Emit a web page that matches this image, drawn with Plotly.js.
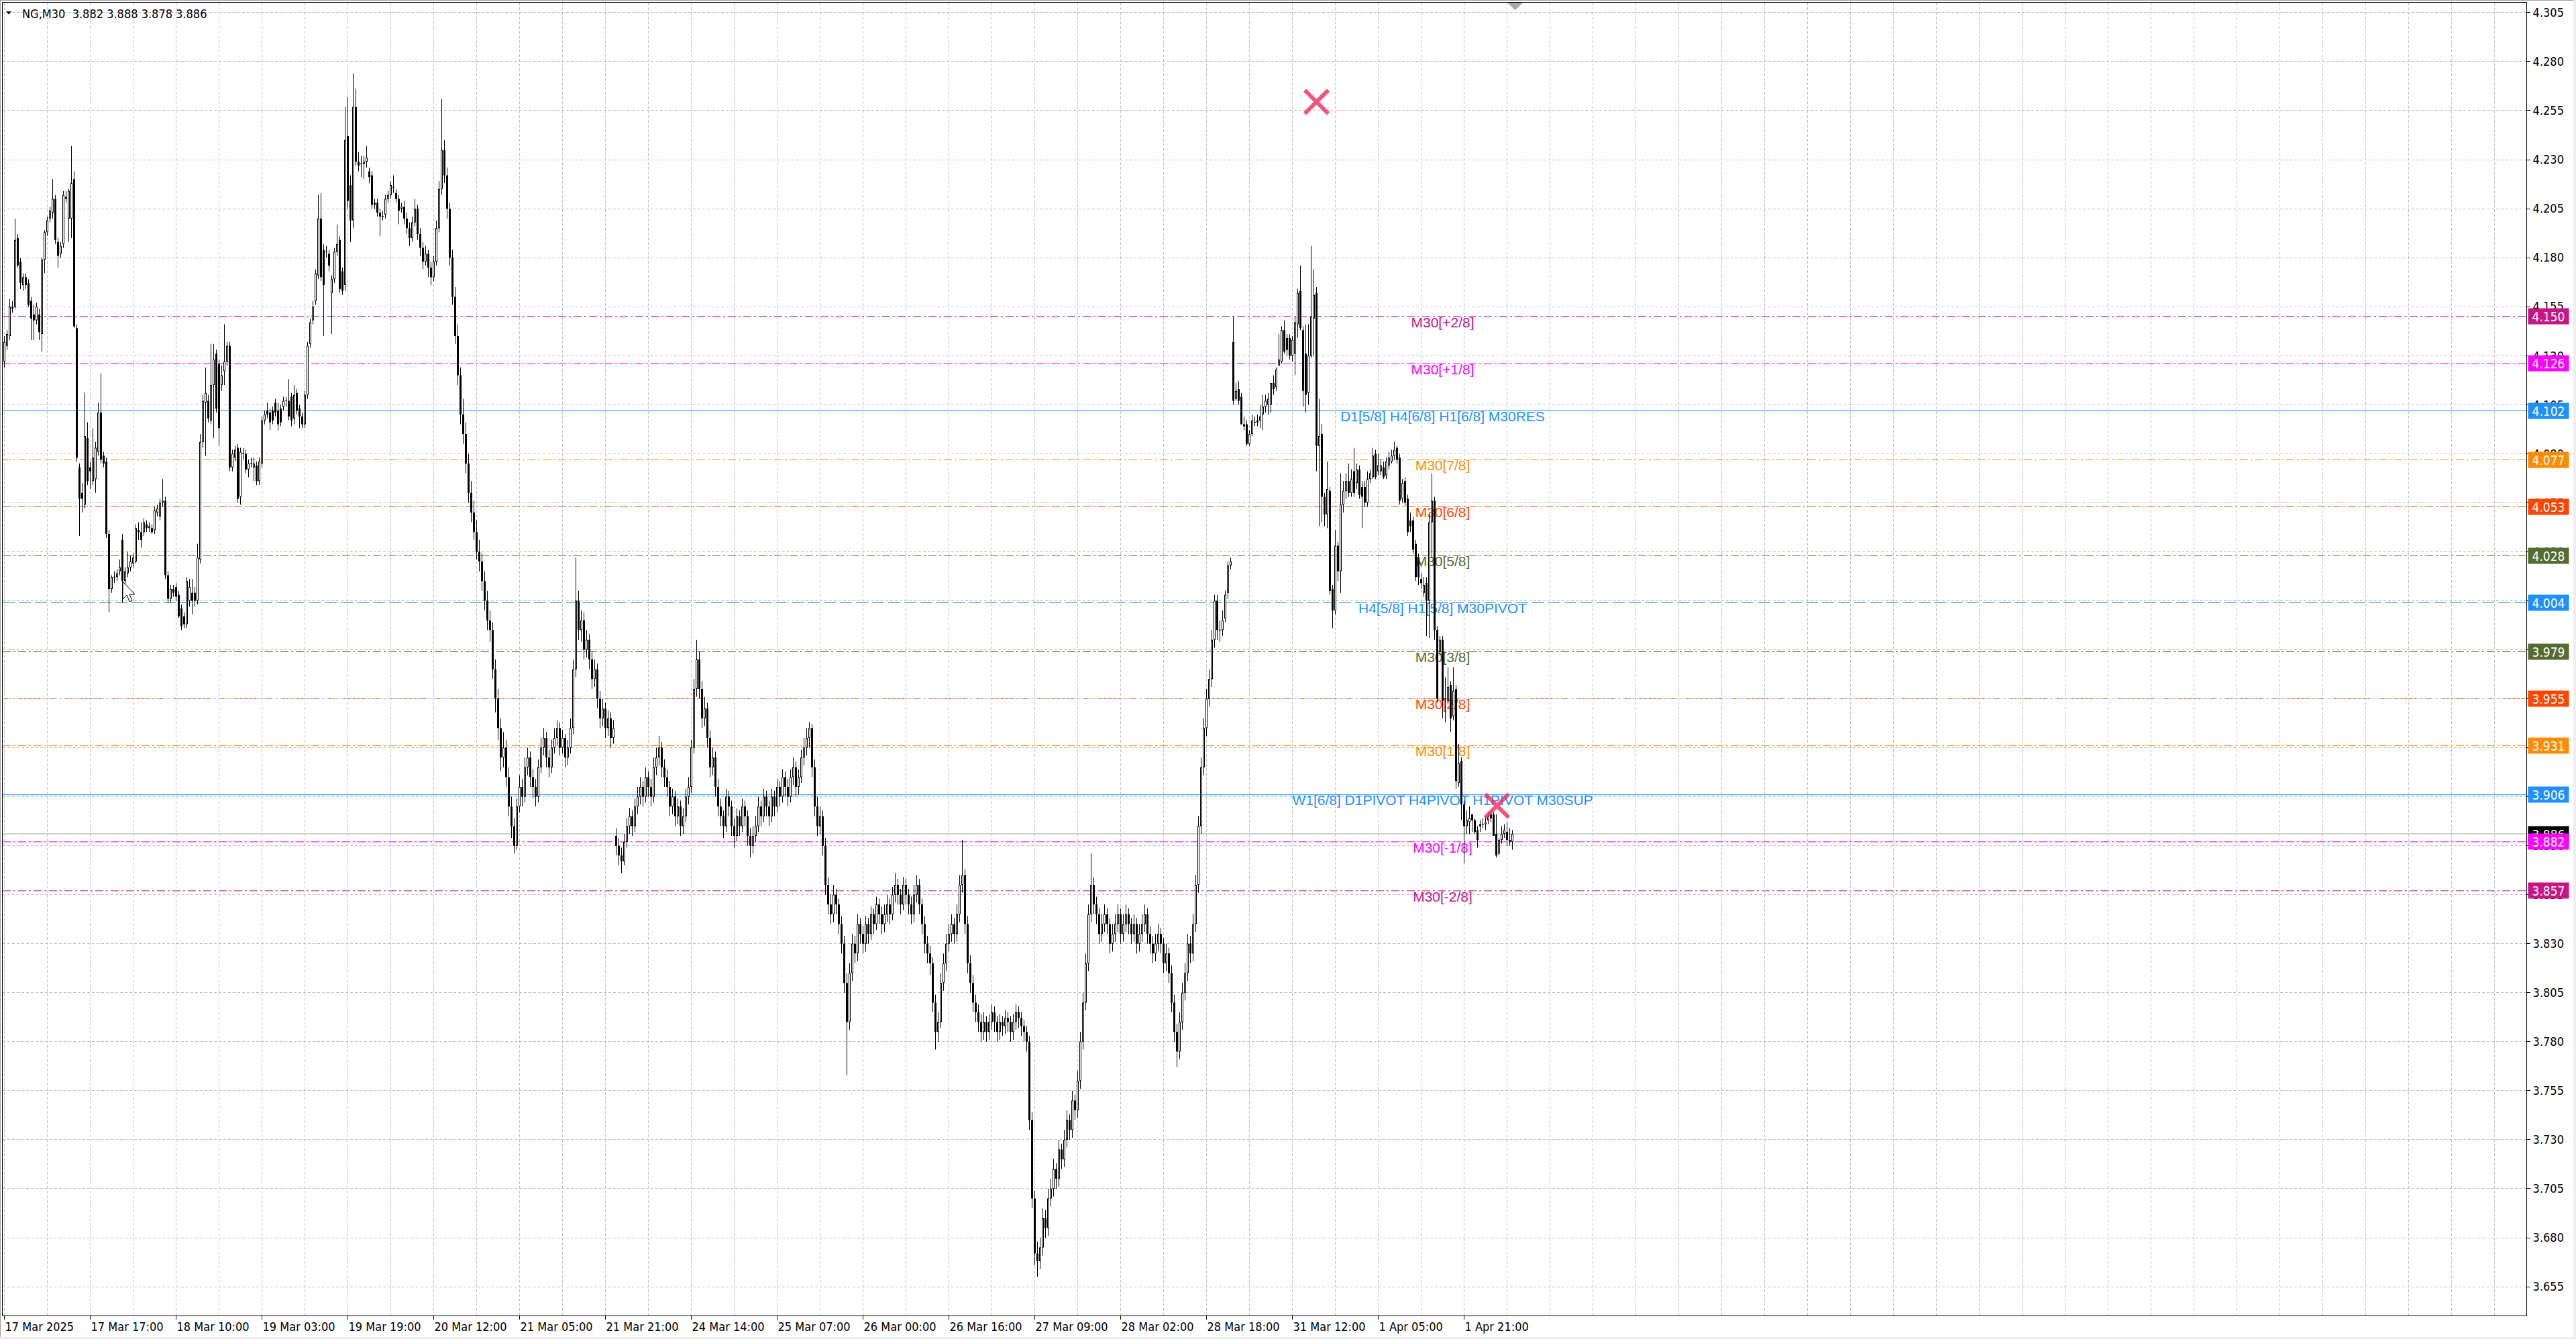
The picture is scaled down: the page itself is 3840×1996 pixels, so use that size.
<!DOCTYPE html>
<html>
<head>
<meta charset="utf-8">
<script src="https://cdn.plot.ly/plotly-3.0.1.min.js"></script>
<style>
html,body{margin:0;padding:0;background:#fff;overflow:hidden}
#chart{position:absolute;left:0;top:0;width:3840px;height:1996px}
.edge{position:absolute;background:#a0a0a0}
</style>
</head>
<body>
<div id="chart"></div>
<div class="edge" style="left:0;top:0;width:3840px;height:1px"></div>
<div class="edge" style="left:0;top:0;width:1px;height:1996px"></div>
<div class="edge" style="left:3836px;top:0;width:4px;height:1996px;background:#eeeeee"></div>
<div class="edge" style="left:0;top:1993px;width:3840px;height:3px;background:#eeeeee"></div>
<script>
// NG, 30-minute bars: open / high / low / close, oldest first
const open = [
4.127,4.135,4.140,4.155,4.155,4.190,4.178,4.166,4.170,4.167,
4.158,4.151,4.148,4.151,4.141,4.179,4.193,4.200,4.203,4.210,
4.188,4.182,4.187,4.211,4.200,4.200,4.220,4.144,4.073,4.060,
4.054,4.088,4.073,4.066,4.067,4.081,4.101,4.079,4.076,4.039,
4.011,4.017,4.017,4.020,4.036,4.015,4.019,4.022,4.024,4.025,
4.041,4.040,4.040,4.044,4.042,4.042,4.041,4.050,4.048,4.055,
4.056,4.018,4.006,4.011,4.012,4.008,4.001,3.997,3.993,4.005,
4.009,4.009,4.005,4.026,4.086,4.106,4.107,4.097,4.115,4.131,
4.126,4.115,4.122,4.127,4.135,4.073,4.078,4.083,4.058,4.080,
4.080,4.072,4.075,4.073,4.074,4.066,4.075,4.097,4.102,4.101,
4.102,4.106,4.102,4.103,4.104,4.107,4.107,4.109,4.098,4.111,
4.103,4.099,4.095,4.110,4.136,4.148,4.158,4.171,4.200,4.184,
4.183,4.182,4.162,4.169,4.183,4.189,4.173,4.166,4.242,4.217,
4.199,4.257,4.229,4.228,4.228,4.229,4.224,4.222,4.208,4.208,
4.203,4.201,4.202,4.210,4.212,4.216,4.213,4.210,4.205,4.206,
4.200,4.195,4.190,4.198,4.205,4.192,4.185,4.178,4.182,4.175,
4.170,4.178,4.195,4.215,4.235,4.222,4.205,4.180,4.160,4.140,
4.120,4.100,4.090,4.075,4.060,4.050,4.040,4.030,4.025,4.015,
4.005,3.995,3.990,3.970,3.955,3.940,3.925,3.930,3.915,3.900,
3.890,3.880,3.900,3.910,3.905,3.920,3.925,3.915,3.910,3.905,
3.920,3.930,3.935,3.925,3.920,3.930,3.935,3.940,3.930,3.935,
3.925,3.930,3.940,3.970,4.005,3.990,3.995,3.980,3.985,3.975,
3.965,3.970,3.955,3.945,3.950,3.940,3.945,3.935,3.885,3.880,
3.875,3.872,3.882,3.890,3.895,3.890,3.900,3.905,3.910,3.905,
3.915,3.910,3.905,3.920,3.925,3.930,3.920,3.915,3.910,3.900,
3.905,3.895,3.900,3.890,3.895,3.905,3.910,3.930,3.960,3.975,
3.960,3.945,3.950,3.935,3.920,3.925,3.910,3.900,3.895,3.890,
3.905,3.900,3.890,3.885,3.895,3.890,3.900,3.895,3.885,3.880,
3.885,3.890,3.900,3.895,3.905,3.900,3.895,3.905,3.900,3.910,
3.905,3.915,3.910,3.905,3.915,3.920,3.910,3.915,3.925,3.930,
3.935,3.940,3.920,3.900,3.890,3.895,3.880,3.860,3.850,3.845,
3.855,3.850,3.840,3.830,3.810,3.790,3.815,3.830,3.825,3.840,
3.835,3.830,3.840,3.835,3.845,3.840,3.850,3.845,3.840,3.845,
3.850,3.845,3.855,3.860,3.855,3.850,3.860,3.855,3.850,3.845,
3.855,3.860,3.850,3.840,3.830,3.825,3.820,3.800,3.785,3.790,
3.810,3.820,3.830,3.835,3.840,3.835,3.845,3.860,3.865,3.840,
3.820,3.810,3.800,3.795,3.790,3.785,3.790,3.785,3.790,3.795,
3.790,3.785,3.790,3.788,3.792,3.790,3.785,3.790,3.795,3.792,
3.788,3.785,3.780,3.740,3.700,3.672,3.668,3.675,3.690,3.685,
3.700,3.705,3.715,3.710,3.725,3.720,3.730,3.740,3.735,3.750,
3.745,3.760,3.780,3.800,3.820,3.845,3.860,3.850,3.845,3.835,
3.840,3.845,3.840,3.830,3.835,3.840,3.845,3.835,3.840,3.845,
3.840,3.835,3.840,3.830,3.835,3.840,3.845,3.835,3.830,3.825,
3.830,3.835,3.830,3.820,3.825,3.815,3.800,3.785,3.775,3.790,
3.805,3.815,3.830,3.825,3.840,3.860,3.890,3.920,3.940,3.955,
3.965,3.985,4.005,3.990,3.990,3.996,4.009,4.023,4.137,4.108,
4.113,4.109,4.095,4.095,4.085,4.090,4.096,4.097,4.097,4.100,
4.104,4.105,4.105,4.116,4.114,4.125,4.127,4.143,4.139,4.139,
4.130,4.131,4.146,4.163,4.143,4.131,4.111,4.130,4.149,4.162,
4.084,4.090,4.058,4.049,4.061,4.011,4.000,4.033,4.020,4.054,
4.061,4.066,4.060,4.071,4.065,4.072,4.063,4.063,4.055,4.067,
4.068,4.080,4.071,4.071,4.073,4.069,4.074,4.076,4.079,4.083,
4.078,4.057,4.066,4.057,4.046,4.046,4.034,4.027,4.016,4.009,
4.014,4.005,4.045,4.056,3.990,3.979,3.985,3.955,3.954,3.962,
3.946,3.960,3.912,3.923,3.901,3.890,3.892,3.896,3.893,3.888,
3.891,3.891,3.891,3.893,3.896,3.896,3.886,3.876,3.883,3.886,
3.887,3.883,3.882
];
const high = [
4.140,4.143,4.159,4.158,4.200,4.192,4.180,4.172,4.172,4.169,
4.160,4.156,4.157,4.154,4.180,4.194,4.201,4.206,4.220,4.212,
4.190,4.188,4.214,4.214,4.215,4.237,4.224,4.146,4.075,4.065,
4.111,4.096,4.076,4.093,4.086,4.106,4.121,4.081,4.078,4.041,
4.018,4.020,4.021,4.026,4.039,4.022,4.030,4.028,4.029,4.044,
4.045,4.045,4.047,4.046,4.045,4.044,4.053,4.054,4.057,4.067,
4.058,4.020,4.013,4.013,4.014,4.010,4.003,3.999,4.017,4.016,
4.016,4.012,4.034,4.090,4.110,4.124,4.110,4.136,4.136,4.133,
4.128,4.125,4.146,4.137,4.137,4.082,4.084,4.085,4.083,4.083,
4.082,4.077,4.078,4.078,4.076,4.078,4.099,4.102,4.106,4.103,
4.104,4.108,4.106,4.105,4.109,4.109,4.118,4.111,4.115,4.113,
4.105,4.101,4.112,4.137,4.149,4.158,4.174,4.212,4.213,4.187,
4.186,4.184,4.171,4.185,4.197,4.191,4.175,4.257,4.262,4.222,
4.274,4.266,4.234,4.232,4.232,4.237,4.226,4.224,4.210,4.210,
4.205,4.204,4.212,4.214,4.219,4.222,4.215,4.212,4.208,4.209,
4.203,4.198,4.201,4.210,4.207,4.195,4.188,4.186,4.184,4.178,
4.181,4.199,4.219,4.261,4.240,4.226,4.208,4.184,4.165,4.146,
4.124,4.108,4.096,4.080,4.066,4.056,4.046,4.036,4.029,4.020,
4.010,4.000,3.994,3.975,3.960,3.945,3.938,3.934,3.920,3.905,
3.894,3.904,3.916,3.914,3.925,3.930,3.928,3.919,3.914,3.924,
3.935,3.940,3.938,3.929,3.934,3.940,3.944,3.943,3.939,3.937,
3.934,3.945,3.975,4.027,4.010,4.000,3.999,3.990,3.988,3.979,
3.975,3.973,3.959,3.955,3.953,3.949,3.948,3.944,3.889,3.884,
3.879,3.886,3.894,3.899,3.898,3.904,3.910,3.915,3.913,3.920,
3.918,3.914,3.925,3.930,3.936,3.933,3.924,3.919,3.913,3.909,
3.908,3.904,3.903,3.899,3.909,3.915,3.934,3.965,3.985,3.979,
3.964,3.956,3.953,3.939,3.930,3.928,3.914,3.904,3.898,3.909,
3.908,3.903,3.894,3.899,3.898,3.904,3.903,3.898,3.889,3.890,
3.895,3.905,3.903,3.909,3.908,3.903,3.909,3.908,3.914,3.913,
3.919,3.918,3.914,3.919,3.925,3.923,3.919,3.929,3.935,3.940,
3.943,3.942,3.924,3.905,3.900,3.898,3.884,3.864,3.855,3.860,
3.858,3.853,3.844,3.834,3.815,3.820,3.835,3.834,3.845,3.843,
3.839,3.844,3.843,3.849,3.848,3.854,3.853,3.849,3.850,3.855,
3.853,3.859,3.866,3.863,3.858,3.864,3.863,3.858,3.854,3.860,
3.865,3.863,3.853,3.844,3.834,3.829,3.823,3.804,3.795,3.815,
3.825,3.835,3.840,3.845,3.843,3.850,3.865,3.883,3.868,3.844,
3.824,3.814,3.804,3.799,3.794,3.795,3.793,3.794,3.799,3.798,
3.793,3.794,3.793,3.796,3.795,3.793,3.794,3.799,3.798,3.795,
3.791,3.788,3.783,3.744,3.704,3.678,3.680,3.695,3.694,3.705,
3.710,3.720,3.718,3.730,3.728,3.735,3.745,3.743,3.755,3.753,
3.765,3.785,3.805,3.825,3.850,3.876,3.864,3.854,3.848,3.845,
3.850,3.848,3.843,3.840,3.845,3.850,3.848,3.845,3.850,3.848,
3.843,3.845,3.843,3.840,3.845,3.850,3.848,3.839,3.834,3.835,
3.840,3.838,3.833,3.830,3.828,3.819,3.804,3.789,3.795,3.810,
3.820,3.835,3.834,3.845,3.865,3.895,3.925,3.945,3.960,3.970,
3.990,4.008,4.008,3.995,4.000,4.010,4.025,4.027,4.150,4.116,
4.117,4.111,4.099,4.097,4.092,4.100,4.099,4.100,4.105,4.110,
4.110,4.111,4.116,4.120,4.124,4.141,4.145,4.148,4.141,4.141,
4.140,4.150,4.164,4.176,4.145,4.146,4.146,4.186,4.174,4.165,
4.108,4.095,4.060,4.076,4.063,4.013,4.041,4.035,4.070,4.066,
4.070,4.075,4.072,4.083,4.075,4.074,4.066,4.066,4.071,4.072,
4.083,4.082,4.080,4.077,4.076,4.078,4.081,4.082,4.086,4.084,
4.080,4.067,4.068,4.059,4.050,4.048,4.036,4.029,4.019,4.017,
4.017,4.050,4.070,4.058,3.992,3.987,3.987,3.966,3.971,3.964,
3.971,3.962,3.932,3.925,3.903,3.898,3.900,3.896,3.894,3.890,
3.893,3.894,3.895,3.897,3.897,3.897,3.896,3.884,3.890,3.891,
3.892,3.889,3.888
];
const low = [
4.124,4.133,4.138,4.152,4.154,4.175,4.164,4.163,4.164,4.155,
4.138,4.138,4.146,4.138,4.132,4.172,4.191,4.198,4.200,4.187,
4.175,4.180,4.185,4.208,4.188,4.190,4.144,4.076,4.038,4.050,
4.052,4.064,4.062,4.064,4.060,4.079,4.075,4.073,4.037,3.999,
4.009,4.014,4.015,4.018,4.004,4.010,4.017,4.020,4.022,4.024,
4.036,4.032,4.038,4.040,4.040,4.039,4.039,4.048,4.046,4.053,
4.016,4.004,4.004,4.007,4.005,3.996,3.990,3.991,3.991,4.002,
3.998,4.002,4.003,4.024,4.083,4.079,4.096,4.095,4.088,4.101,
4.084,4.112,4.115,4.125,4.071,4.071,4.076,4.055,4.054,4.077,
4.070,4.068,4.073,4.066,4.064,4.064,4.073,4.095,4.098,4.092,
4.095,4.099,4.092,4.094,4.102,4.104,4.097,4.094,4.095,4.100,
4.093,4.093,4.093,4.108,4.134,4.146,4.156,4.169,4.168,4.140,
4.180,4.173,4.141,4.167,4.181,4.162,4.161,4.163,4.205,4.188,
4.195,4.227,4.224,4.221,4.220,4.226,4.218,4.205,4.205,4.201,
4.191,4.199,4.200,4.208,4.210,4.213,4.208,4.197,4.203,4.197,
4.192,4.186,4.188,4.196,4.189,4.181,4.174,4.176,4.170,4.166,
4.168,4.176,4.193,4.212,4.218,4.200,4.176,4.156,4.136,4.115,
4.095,4.085,4.070,4.055,4.045,4.036,4.026,4.020,4.010,4.000,
3.990,3.984,3.965,3.948,3.934,3.918,3.920,3.910,3.895,3.884,
3.876,3.878,3.897,3.900,3.902,3.916,3.910,3.904,3.900,3.902,
3.917,3.926,3.920,3.915,3.917,3.927,3.931,3.926,3.927,3.920,
3.921,3.927,3.937,3.966,3.985,3.984,3.975,3.976,3.970,3.960,
3.961,3.950,3.940,3.941,3.935,3.936,3.930,3.932,3.875,3.870,
3.866,3.870,3.879,3.886,3.885,3.887,3.896,3.901,3.900,3.902,
3.905,3.900,3.902,3.916,3.921,3.915,3.910,3.905,3.895,3.896,
3.890,3.891,3.885,3.886,3.892,3.901,3.907,3.927,3.956,3.955,
3.940,3.941,3.930,3.915,3.916,3.905,3.895,3.890,3.884,3.887,
3.895,3.885,3.879,3.882,3.885,3.887,3.890,3.880,3.874,3.876,
3.882,3.887,3.890,3.892,3.895,3.890,3.892,3.895,3.897,3.900,
3.902,3.905,3.900,3.902,3.911,3.905,3.906,3.912,3.921,3.926,
3.930,3.915,3.895,3.885,3.886,3.875,3.855,3.845,3.840,3.841,
3.845,3.835,3.825,3.805,3.763,3.786,3.811,3.820,3.821,3.830,
3.825,3.826,3.830,3.832,3.835,3.837,3.840,3.835,3.836,3.841,
3.840,3.842,3.851,3.850,3.845,3.847,3.850,3.845,3.840,3.841,
3.851,3.845,3.835,3.825,3.820,3.814,3.795,3.776,3.780,3.787,
3.806,3.816,3.826,3.831,3.830,3.831,3.841,3.856,3.835,3.815,
3.805,3.795,3.790,3.785,3.780,3.781,3.780,3.781,3.786,3.785,
3.780,3.781,3.783,3.784,3.785,3.780,3.781,3.786,3.787,3.783,
3.780,3.775,3.735,3.695,3.666,3.660,3.664,3.671,3.680,3.681,
3.696,3.701,3.705,3.706,3.715,3.716,3.726,3.730,3.731,3.740,
3.741,3.756,3.776,3.796,3.816,3.841,3.845,3.840,3.830,3.831,
3.836,3.835,3.825,3.826,3.831,3.836,3.830,3.831,3.836,3.835,
3.830,3.831,3.825,3.826,3.831,3.836,3.830,3.825,3.820,3.821,
3.826,3.825,3.815,3.816,3.810,3.795,3.780,3.767,3.771,3.786,
3.801,3.811,3.820,3.821,3.836,3.856,3.886,3.916,3.936,3.951,
3.961,3.981,3.985,3.984,3.987,3.994,4.006,4.021,4.105,4.107,
4.105,4.095,4.092,4.084,4.084,4.089,4.094,4.094,4.093,4.092,
4.101,4.100,4.101,4.110,4.112,4.125,4.126,4.131,4.130,4.128,
4.127,4.120,4.139,4.143,4.104,4.101,4.105,4.129,4.130,4.071,
4.043,4.045,4.043,4.042,4.008,3.991,3.998,4.015,4.009,4.050,
4.057,4.058,4.058,4.058,4.062,4.057,4.042,4.053,4.053,4.065,
4.067,4.067,4.069,4.069,4.067,4.067,4.072,4.075,4.077,4.075,
4.054,4.055,4.053,4.038,4.040,4.029,4.015,4.013,4.011,4.007,
3.987,3.986,4.027,3.985,3.953,3.977,3.945,3.943,3.952,3.938,
3.944,3.909,3.910,3.893,3.871,3.886,3.886,3.887,3.886,3.879,
3.887,3.889,3.888,3.891,3.892,3.885,3.874,3.875,3.881,3.884,
3.880,3.880,3.878
];
const close = [
4.137,4.141,4.155,4.154,4.189,4.176,4.167,4.170,4.166,4.156,
4.149,4.148,4.155,4.142,4.179,4.193,4.199,4.204,4.210,4.189,
4.181,4.186,4.212,4.210,4.214,4.218,4.145,4.078,4.057,4.057,
4.089,4.066,4.071,4.078,4.083,4.101,4.077,4.075,4.039,4.011,
4.017,4.017,4.019,4.022,4.015,4.020,4.022,4.025,4.027,4.042,
4.040,4.036,4.045,4.042,4.043,4.040,4.051,4.052,4.055,4.056,
4.018,4.006,4.011,4.009,4.007,3.997,3.992,3.993,4.015,4.012,
4.005,4.005,4.027,4.086,4.107,4.111,4.098,4.115,4.128,4.103,
4.093,4.120,4.127,4.135,4.073,4.080,4.082,4.057,4.081,4.080,
4.072,4.075,4.075,4.075,4.066,4.076,4.097,4.100,4.100,4.096,
4.097,4.101,4.095,4.096,4.107,4.107,4.099,4.097,4.110,4.102,
4.099,4.095,4.110,4.135,4.147,4.155,4.172,4.200,4.170,4.166,
4.183,4.176,4.169,4.183,4.187,4.164,4.163,4.240,4.209,4.199,
4.257,4.229,4.227,4.228,4.229,4.231,4.221,4.207,4.207,4.203,
4.201,4.201,4.210,4.212,4.217,4.216,4.210,4.204,4.206,4.200,
4.195,4.190,4.198,4.205,4.192,4.185,4.178,4.182,4.175,4.170,
4.178,4.195,4.215,4.235,4.222,4.205,4.180,4.160,4.140,4.120,
4.100,4.090,4.075,4.060,4.050,4.040,4.030,4.025,4.015,4.005,
3.995,3.990,3.970,3.955,3.940,3.925,3.930,3.915,3.900,3.890,
3.880,3.900,3.910,3.905,3.920,3.925,3.915,3.910,3.905,3.920,
3.930,3.935,3.925,3.920,3.930,3.935,3.940,3.930,3.935,3.925,
3.930,3.940,3.970,4.005,3.990,3.995,3.980,3.985,3.975,3.965,
3.970,3.955,3.945,3.950,3.940,3.945,3.935,3.940,3.880,3.875,
3.872,3.882,3.890,3.895,3.890,3.900,3.905,3.910,3.905,3.915,
3.910,3.905,3.920,3.925,3.930,3.920,3.915,3.910,3.900,3.905,
3.895,3.900,3.890,3.895,3.905,3.910,3.930,3.960,3.975,3.960,
3.945,3.950,3.935,3.920,3.925,3.910,3.900,3.895,3.890,3.905,
3.900,3.890,3.885,3.895,3.890,3.900,3.895,3.885,3.880,3.885,
3.890,3.900,3.895,3.905,3.900,3.895,3.905,3.900,3.910,3.905,
3.915,3.910,3.905,3.915,3.920,3.910,3.915,3.925,3.930,3.935,
3.940,3.920,3.900,3.890,3.895,3.880,3.860,3.850,3.845,3.855,
3.850,3.840,3.830,3.810,3.790,3.815,3.830,3.825,3.840,3.835,
3.830,3.840,3.835,3.845,3.840,3.850,3.845,3.840,3.845,3.850,
3.845,3.855,3.860,3.855,3.850,3.860,3.855,3.850,3.845,3.855,
3.860,3.850,3.840,3.830,3.825,3.820,3.800,3.785,3.790,3.810,
3.820,3.830,3.835,3.840,3.835,3.845,3.860,3.865,3.840,3.820,
3.810,3.800,3.795,3.790,3.785,3.790,3.785,3.790,3.795,3.790,
3.785,3.790,3.788,3.792,3.790,3.785,3.790,3.795,3.792,3.788,
3.785,3.780,3.740,3.700,3.672,3.668,3.675,3.690,3.685,3.700,
3.705,3.715,3.710,3.725,3.720,3.730,3.740,3.735,3.750,3.745,
3.760,3.780,3.800,3.820,3.845,3.860,3.850,3.845,3.835,3.840,
3.845,3.840,3.830,3.835,3.840,3.845,3.835,3.840,3.845,3.840,
3.835,3.840,3.830,3.835,3.840,3.845,3.835,3.830,3.825,3.830,
3.835,3.830,3.820,3.825,3.815,3.800,3.785,3.775,3.790,3.805,
3.815,3.830,3.825,3.840,3.860,3.890,3.920,3.940,3.955,3.965,
3.985,4.005,3.990,3.990,3.995,4.008,4.023,4.025,4.107,4.112,
4.107,4.095,4.094,4.085,4.090,4.097,4.096,4.096,4.099,4.104,
4.107,4.108,4.116,4.113,4.123,4.128,4.143,4.132,4.133,4.130,
4.138,4.147,4.162,4.144,4.112,4.110,4.130,4.150,4.161,4.084,
4.089,4.058,4.049,4.062,4.010,4.000,4.033,4.020,4.054,4.061,
4.066,4.060,4.067,4.060,4.072,4.059,4.058,4.055,4.067,4.070,
4.079,4.068,4.074,4.074,4.068,4.076,4.078,4.079,4.082,4.077,
4.056,4.065,4.055,4.040,4.043,4.031,4.017,4.017,4.014,4.013,
4.005,4.045,4.056,3.990,3.955,3.985,3.954,3.955,3.961,3.945,
3.959,3.913,3.922,3.901,3.890,3.893,3.894,3.893,3.887,3.883,
3.890,3.891,3.892,3.895,3.894,3.885,3.875,3.883,3.886,3.888,
3.883,3.882,3.886
];

// time axis labels and the bars they belong to
const timeLabels = ['17 Mar 2025','17 Mar 17:00','18 Mar 10:00','19 Mar 03:00','19 Mar 19:00',
  '20 Mar 12:00','21 Mar 05:00','21 Mar 21:00','24 Mar 14:00','25 Mar 07:00','26 Mar 00:00',
  '26 Mar 16:00','27 Mar 09:00','28 Mar 02:00','28 Mar 18:00','31 Mar 12:00','1 Apr 05:00','1 Apr 21:00'];
const timeLabelBars = [0,32,64,96,128,160,192,224,256,288,320,352,384,416,448,480,512,544];

// price scale labels
const priceTicks = [4.305,4.280,4.255,4.230,4.205,4.180,4.155,4.130,4.105,4.080,4.055,4.030,4.005,
  3.980,3.955,3.930,3.905,3.880,3.855,3.830,3.805,3.780,3.755,3.730,3.705,3.680,3.655];

// Murrey math / pivot levels
const levelPrices = [4.150,4.126,4.102,4.077,4.053,4.028,4.004,3.979,3.955,3.931,3.906,3.882,3.857];
const levelNames = ['M30[+2/8]','M30[+1/8]','D1[5/8] H4[6/8] H1[6/8] M30RES','M30[7/8]','M30[6/8]',
  'M30[5/8]','H4[5/8] H1[5/8] M30PIVOT','M30[3/8]','M30[2/8]','M30[1/8]',
  'W1[6/8] D1PIVOT H4PIVOT H1PIVOT M30SUP','M30[-1/8]','M30[-2/8]'];
const levelColors = ['#C71585','#FF00FF','#1E90FF','#FF8C00','#FF4500','#556B2F','#1E90FF',
  '#556B2F','#FF4500','#FF8C00','#1E90FF','#FF00FF','#C71585'];
const levelStyles = ['dashdot','dashdot','solid','dashdot','dashdot','dashdot','dash',
  'dashdot','dashdot','dashdot','solid','dashdot','dashdot'];

// header quote and last bid
const symbolName = 'NG,M30';
const headerQuote = [3.882, 3.888, 3.878, 3.886];
const bidPrice = 3.886;

// signal crosses
const crossBars = [489, 556.25];
const crossPrices = [4.2595, 3.9004];

// ---- geometry ----
const W = 3840, H = 1996;
const plotL = 4, plotR = 3766, plotT = 4, plotB = 1961;
const barPx = 4;
const xMin = -0.625, xMax = xMin + (plotR - plotL) / barPx;
const yMin = 3.6403, yMax = 4.3101;
const onePx = (yMax - yMin) / (plotB - plotT);
const labelBar = 536;
const tahoma = 'DejaVu Sans Condensed, Liberation Sans, Arial, sans-serif';
const arial = 'Liberation Sans, Arial, sans-serif';
const gridColor = '#c0c0c0';
const gridDash = '4px,3px';
const dashPatterns = {solid: 'solid', dashdot: '12px,4px,3px,4px', dash: '18px,6px'};

const paperX = v => (v - plotL) / (plotR - plotL);
const paperY = v => 1 - (v - plotT) / (plotB - plotT);

// candle geometry: wicks, filled bodies, hollow interiors of rising bars
const wickX = [], wickY = [], bodyX = [], bodyY = [], holeX = [], holeY = [];
for (let i = 0; i < close.length; i++) {
  wickX.push(i, i, null);
  wickY.push(low[i], high[i], null);
  let top = Math.max(open[i], close[i]);
  let bot = Math.min(open[i], close[i]);
  if (top - bot < onePx) {
    const m = (top + bot) / 2;
    top = m + onePx / 2; bot = m - onePx / 2;
  }
  const a = i - 0.375, b = i + 0.375;
  bodyX.push(a, b, b, a, a, null);
  bodyY.push(bot, bot, top, top, bot, null);
  if (close[i] > open[i] && top - bot > 2.5 * onePx) {
    const c = i - 0.125, d = i + 0.125, t2 = top - onePx, b2 = bot + onePx;
    holeX.push(c, d, d, c, c, null);
    holeY.push(b2, b2, t2, t2, b2, null);
  }
}

const traces = [
  { // level captions sit underneath the bars
    type: 'scatter', mode: 'text', x: levelPrices.map(() => labelBar), y: levelPrices,
    text: levelNames, textposition: 'bottom center', cliponaxis: false,
    textfont: {family: arial, size: 21, color: levelColors}, hoverinfo: 'skip', showlegend: false
  },
  {
    type: 'scatter', mode: 'lines', x: wickX, y: wickY, connectgaps: false,
    line: {color: '#000', width: 1}, hoverinfo: 'skip', showlegend: false
  },
  {
    type: 'scatter', mode: 'lines', x: bodyX, y: bodyY, fill: 'toself', fillcolor: '#000',
    line: {width: 0, color: '#000'}, hoverinfo: 'skip', showlegend: false
  },
  {
    type: 'scatter', mode: 'lines', x: holeX, y: holeY, fill: 'toself', fillcolor: '#fff',
    line: {width: 0, color: '#fff'}, hoverinfo: 'skip', showlegend: false
  },
  {
    type: 'scatter', mode: 'markers', x: crossBars, y: crossPrices, cliponaxis: false,
    marker: {symbol: 'x-thin', size: 35, color: 'rgba(236,44,92,0.8)',
             line: {width: 6, color: 'rgba(236,44,92,0.8)'}},
    hoverinfo: 'skip', showlegend: false
  }
];

const shapes = [];
levelPrices.forEach((p, k) => {
  shapes.push({type: 'line', xref: 'paper', x0: 0, x1: 1, yref: 'y', y0: p, y1: p, layer: 'between',
    line: {color: levelColors[k], width: 1, dash: dashPatterns[levelStyles[k]]}});
});
shapes.push({type: 'line', xref: 'paper', x0: 0, x1: 1, yref: 'y', y0: bidPrice, y1: bidPrice,
  layer: 'between', line: {color: '#c0c0c0', width: 1.5}});
// chart-shift marker at the top edge
shapes.push({type: 'path', xref: 'paper', yref: 'paper', layer: 'above',
  path: `M${paperX(2247)},${paperY(4)} L${paperX(2270)},${paperY(4)} L${paperX(2258.5)},${paperY(15)} Z`,
  fillcolor: '#a8a8a8', line: {width: 0}});
// small drop-down triangle before the header
shapes.push({type: 'path', xref: 'paper', yref: 'paper', layer: 'above',
  path: `M${paperX(9)},${paperY(17)} L${paperX(17)},${paperY(17)} L${paperX(13)},${paperY(21.5)} Z`,
  fillcolor: '#000', line: {width: 0}});
// mouse pointer
const ptr = [[0,0],[0,26],[6,20],[10,30],[14,28],[10,19],[18,19]];
shapes.push({type: 'path', xref: 'paper', yref: 'paper', layer: 'above',
  path: 'M' + ptr.map(q => `${paperX(183 + q[0])},${paperY(867 + q[1])}`).join(' L') + ' Z',
  fillcolor: '#fff', line: {color: '#000', width: 1}});

const annotations = [];
annotations.push({xref: 'paper', yref: 'paper', x: paperX(31), y: paperY(20), xanchor: 'left', yanchor: 'middle',
  showarrow: false, text: symbolName + '\u00a0\u00a0' + headerQuote.map(v => v.toFixed(3)).join('\u00a0'),
  font: {family: tahoma, size: 18, color: '#000'}});

const boxes = [{p: bidPrice, c: '#000000'}].concat(levelPrices.map((p, k) => ({p: p, c: levelColors[k]})));
boxes.forEach(b => {
  annotations.push({xref: 'paper', yref: 'y', x: 1, y: b.p, xanchor: 'left', yanchor: 'middle', xshift: 2,
    showarrow: false, text: b.p.toFixed(3), bgcolor: b.c, borderpad: 1, width: 58, height: 21, align: 'center',
    font: {family: tahoma, size: 19, color: '#ffffff'}});
});

const layout = {
  width: W, height: H,
  margin: {l: plotL, r: W - plotR, t: plotT, b: H - plotB, pad: 0},
  paper_bgcolor: '#ffffff', plot_bgcolor: '#ffffff',
  showlegend: false, dragmode: false,
  xaxis: {
    range: [xMin, xMax], tickmode: 'array', tickvals: timeLabelBars, ticktext: timeLabels,
    ticks: 'outside', ticklen: 5, tickwidth: 1, tickcolor: '#000', ticklabelposition: 'outside right',
    tickfont: {family: tahoma, size: 18, color: '#000'},
    showgrid: true, gridcolor: gridColor, gridwidth: 1, griddash: gridDash,
    minor: {tickmode: 'linear', tick0: 0, dtick: 16, showgrid: true, gridcolor: gridColor,
            gridwidth: 1, griddash: gridDash, ticks: ''},
    showline: true, linecolor: '#000', linewidth: 1, mirror: true, zeroline: false, fixedrange: true
  },
  yaxis: {
    side: 'right', range: [yMin, yMax], tickmode: 'array', tickvals: priceTicks,
    ticktext: priceTicks.map(v => v.toFixed(3)),
    ticks: 'outside', ticklen: 5, tickwidth: 1, tickcolor: '#000',
    tickfont: {family: tahoma, size: 18, color: '#000'},
    showgrid: true, gridcolor: gridColor, gridwidth: 1, griddash: gridDash,
    showline: true, linecolor: '#000', linewidth: 1, mirror: true, zeroline: false, fixedrange: true
  },
  shapes: shapes,
  annotations: annotations
};

Plotly.newPlot('chart', traces, layout, {staticPlot: true, displayModeBar: false});
</script>
</body>
</html>
